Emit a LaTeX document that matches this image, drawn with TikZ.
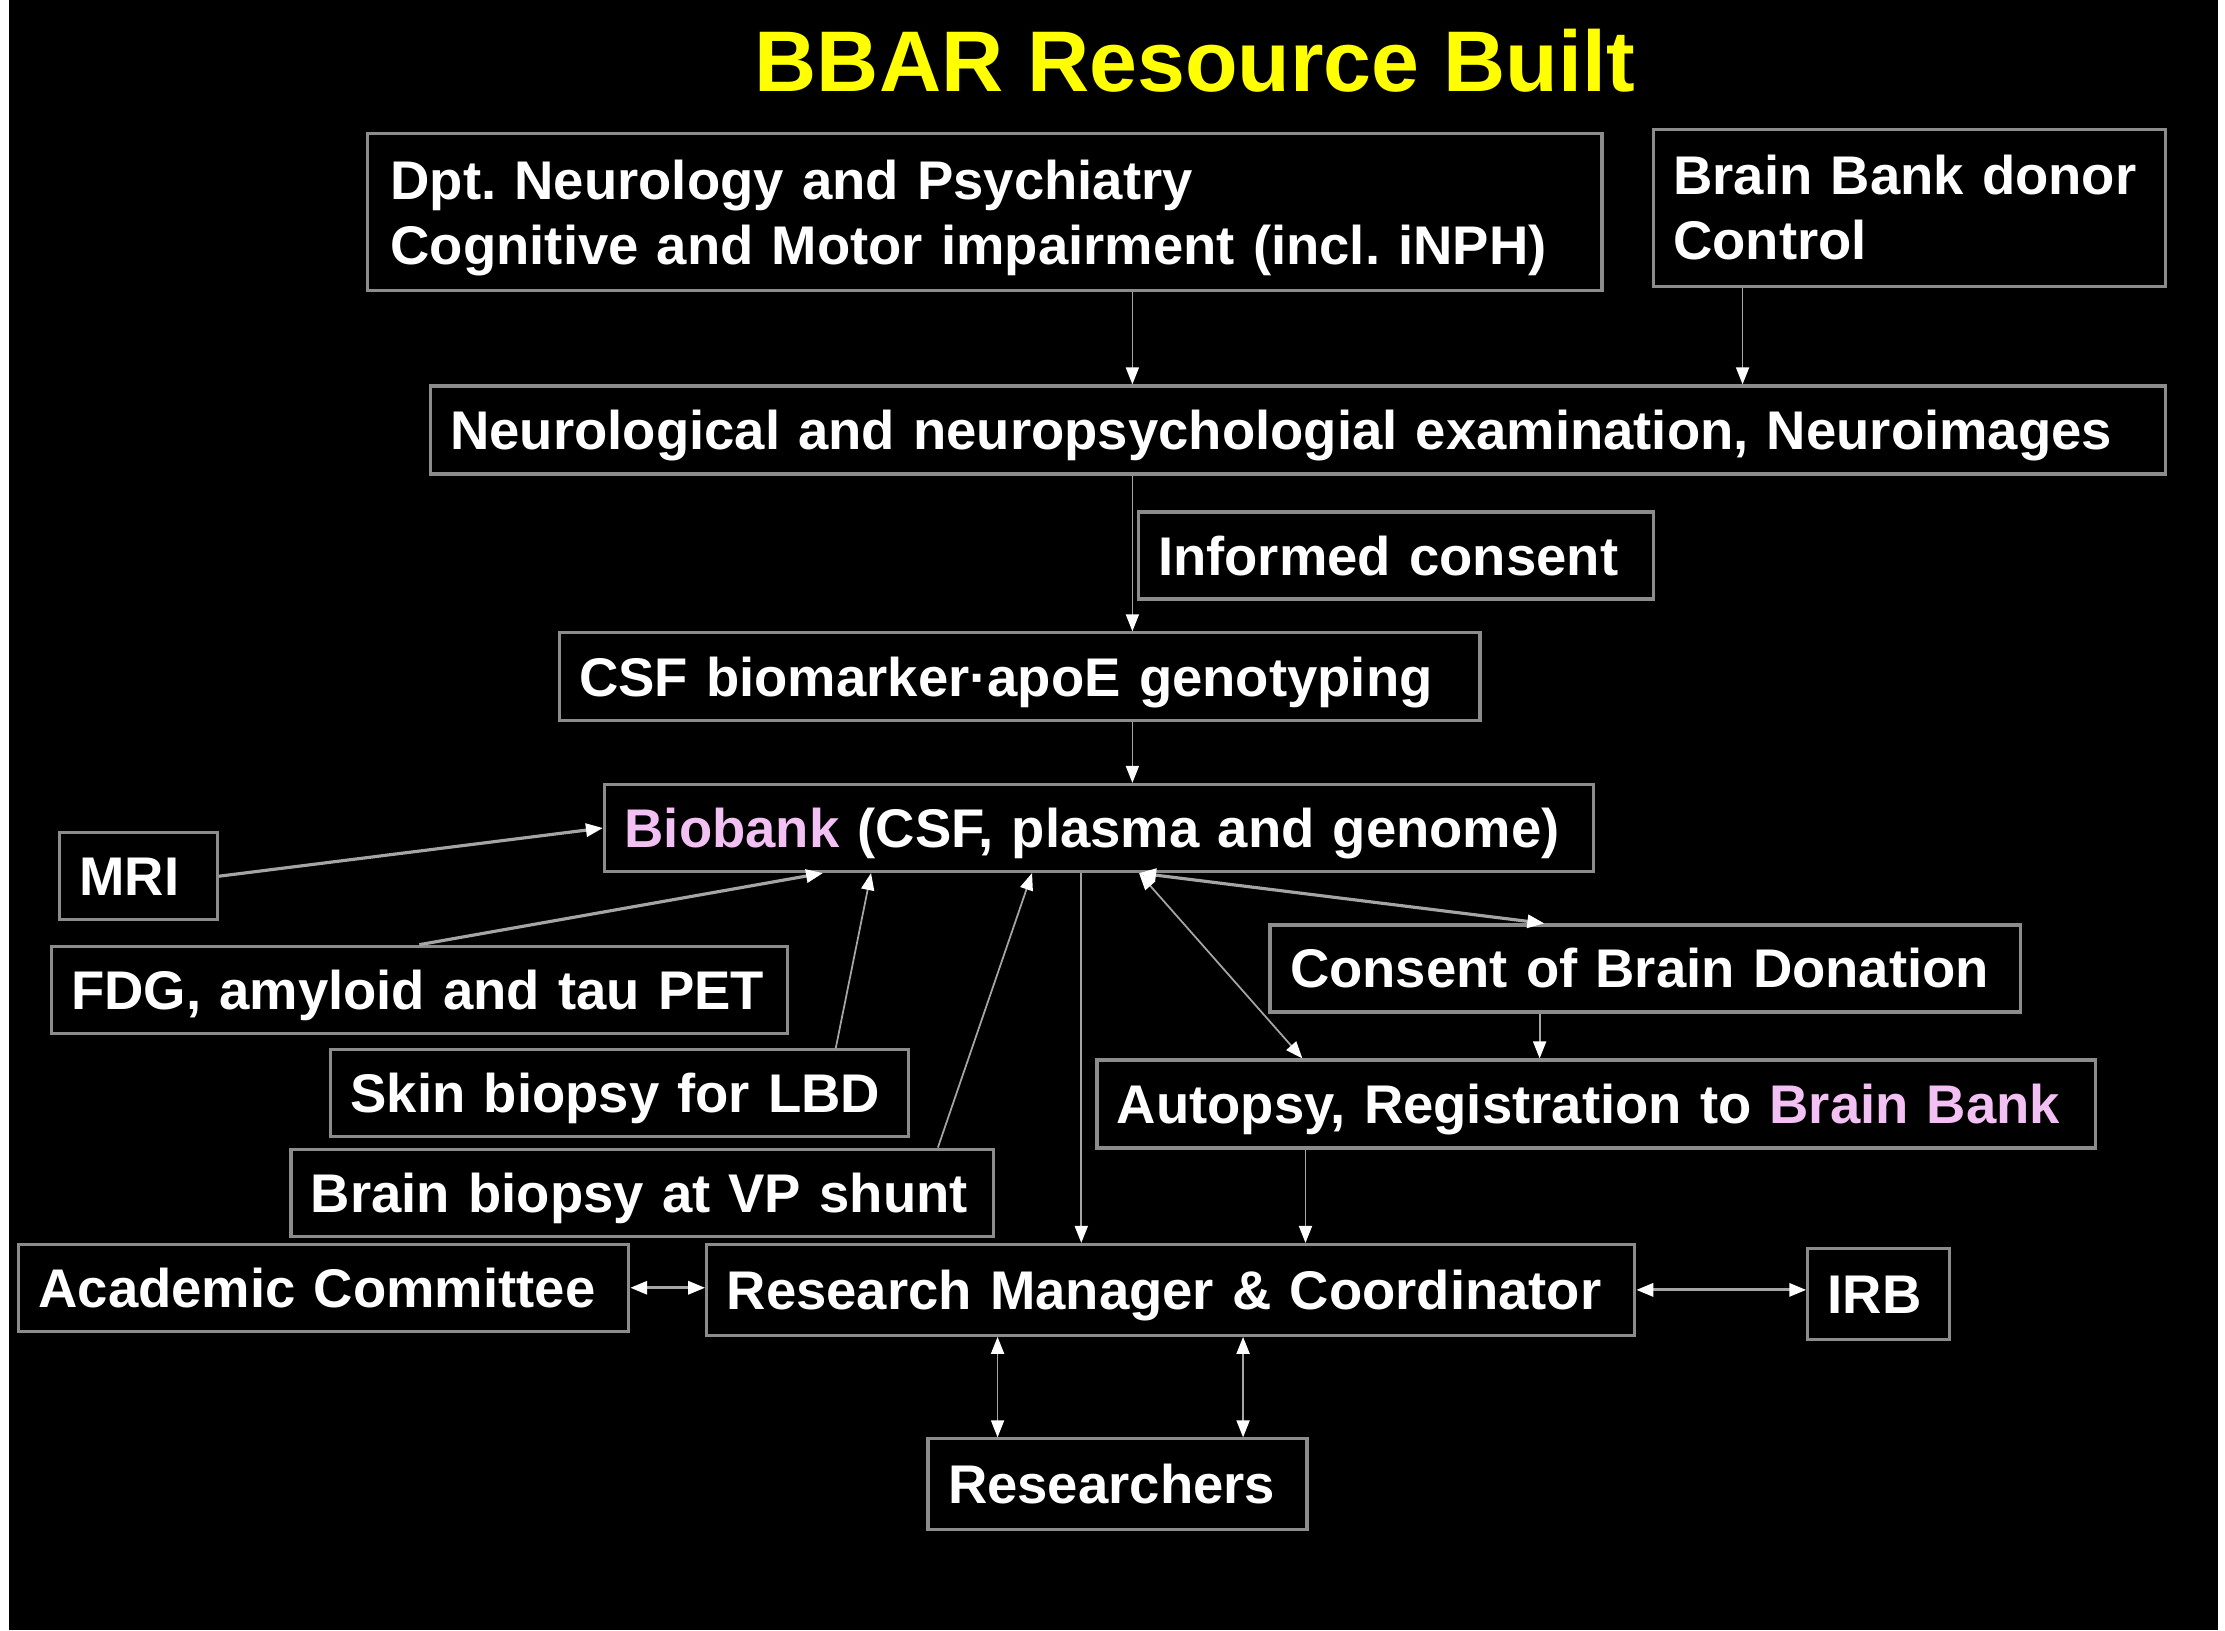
\documentclass[tikz,border=0pt]{standalone}
\usepackage{fontspec}
\setmainfont{Liberation Sans}
\usetikzlibrary{arrows.meta}
\frenchspacing

\definecolor{boxline}{RGB}{140,140,140}
\definecolor{linkgray}{RGB}{165,165,165}
\definecolor{bbpink}{RGB}{242,192,242}
\definecolor{titleyellow}{RGB}{255,255,0}

\begin{document}
\begin{tikzpicture}[
  x=0.01419cm, y=-0.01419cm,
  box/.style={draw=boxline, line width=0.9pt, text=white, align=left, inner xsep=0.2cm, inner ysep=0pt,
    text height=0.51cm, text depth=0.12cm, minimum height=0.87cm, font=\fontsize{15.5}{18.5}\selectfont\bfseries},
  twoline/.style={text depth=0.77cm, minimum height=1.575cm},
  link/.style={draw=linkgray, line width=0.5pt, -{Triangle[length=0.17cm, width=0.13cm, color=white]}},
  twoway/.style={link, {Triangle[length=0.17cm, width=0.13cm, color=white]}-{Triangle[length=0.17cm, width=0.13cm, color=white]}},
  heavy/.style={line width=0.9pt},
  headline/.style={text=titleyellow, font=\fontsize{24.5}{29}\selectfont\bfseries}
]

% === Slide background ===
\useasboundingbox (0,0) rectangle (1568,1149);
\fill[white] (0,0) rectangle (1568,1149);
\fill[black] (6.5,0) rectangle (1563,1149);

\node[headline] (title) at (842,43) {BBAR Resource Built};

% === Intake ===
\node[box, twoline, text width=11.885cm, inner xsep=0.23cm] (dept) at (694,149.5)
  {Dpt. Neurology and Psychiatry\\Cognitive and Motor impairment (incl. iNPH)};
\node[box, twoline, text width=4.72cm] (donor) at (1345.5,146.5) {Brain Bank donor\\Control};
\node[box, text width=16.95cm, minimum height=0.88cm] (exam) at (914.5,303)
  {Neurological and neuropsychologial examination, Neuroimages};
\node[box, text width=4.75cm] (informed) at (983.5,391.5) {Informed consent};
\node[box, text width=8.81cm, minimum height=0.88cm] (csf) at (718.5,477) {CSF biomarker·apoE genotyping};

% === Biobank and its inputs ===
\node[box, text width=9.49cm] (biobank) at (774.5,583.5)
  {\textcolor{bbpink}{Biobank} (CSF, plasma and genome)};
\node[box, text width=1.175cm] (mri) at (97.5,617.5) {MRI};
\node[box, text width=6.965cm] (fdg) at (295.5,697.5) {FDG, amyloid and tau PET};
\node[box, text width=5.375cm] (skin) at (436.5,770.5) {Skin biopsy for LBD};
\node[box, text width=6.624cm] (biopsy) at (452.5,840.5) {Brain biopsy at VP shunt};

% === Brain bank branch ===
\node[box, text width=7.107cm] (donation) at (1159.5,682.5) {Consent of Brain Donation};
\node[box, text width=9.59cm, minimum height=0.88cm] (autopsy) at (1125,778)
  {Autopsy, Registration to \textcolor{bbpink}{Brain Bank}};

% === Management ===
\node[box, text width=5.702cm] (academic) at (228,907.5) {Academic Committee};
\node[box, text width=8.88cm, minimum height=0.908cm] (manager) at (825,909) {Research Manager \& Coordinator};
\node[box, text width=1.019cm, minimum height=0.908cm] (irb) at (1324,912) {IRB};
\node[box, text width=3.389cm, minimum height=0.908cm] (researchers) at (787.5,1046) {Researchers};

% Columns of the vertical connectors
\coordinate (spine) at (798,0);
\coordinate (donorcol) at (1228,0);
\coordinate (dropcol) at (762,0);
\coordinate (donatecol) at (1085,0);
\coordinate (autopsycol) at (920,0);
\coordinate (teamL) at (703,0);
\coordinate (teamR) at (876,0);

% Connectors
\draw[link] (dept.south -| spine) -- (exam.north -| spine);
\draw[link] (donor.south -| donorcol) -- (exam.north -| donorcol);
\draw[link] (exam.south -| spine) -- (csf.north -| spine);
\draw[link] (csf.south -| spine) -- (biobank.north -| spine);

\draw[link, heavy] (mri.east) -- (biobank.west);
\draw[link, heavy] (fdg.north) -- ([xshift=-2.76cm]biobank.south);
\draw[link] ([xshift=-0.74cm]skin.north east) -- ([xshift=-2.28cm]biobank.south);
\draw[link] ([xshift=-0.57cm]biopsy.north east) -- ([xshift=-0.67cm]biobank.south);
\draw[link] (biobank.south -| dropcol) -- (manager.north -| dropcol);

\draw[twoway, heavy] ([xshift=0.4cm]biobank.south) -- ([xshift=-1.01cm]donation.north);
\draw[twoway] ([xshift=0.4cm]biobank.south) -- ([xshift=-2.94cm]autopsy.north);
\draw[link] (donation.south -| donatecol) -- (autopsy.north -| donatecol);
\draw[link] (autopsy.south -| autopsycol) -- (manager.north -| autopsycol);

\draw[twoway, heavy] (academic.east) -- (manager.west |- academic.east);
\draw[twoway, heavy] (manager.east) -- (irb.west |- manager.east);
\draw[twoway] (manager.south -| teamL) -- (researchers.north -| teamL);
\draw[twoway] (manager.south -| teamR) -- (researchers.north -| teamR);

\end{tikzpicture}
\end{document}
